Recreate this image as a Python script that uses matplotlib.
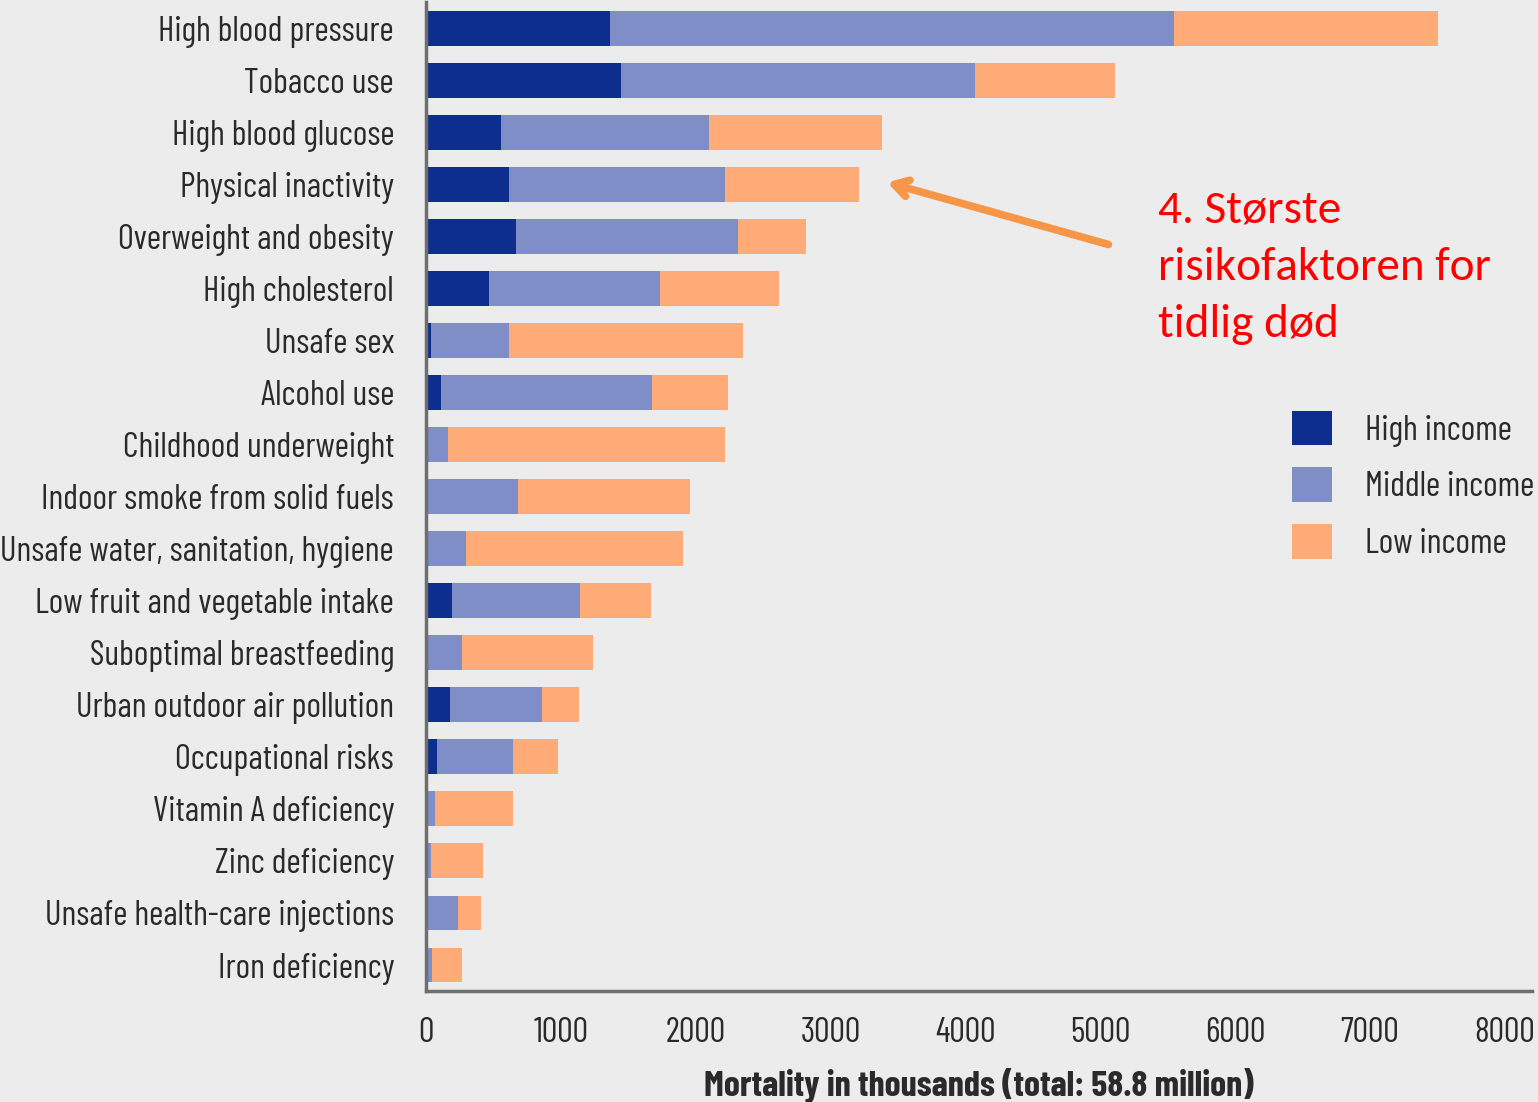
import matplotlib
matplotlib.use('Agg')
import matplotlib.pyplot as plt
import numpy as np

# risk factors, top to bottom; mortality in thousands
factors = ['High blood pressure', 'Tobacco use', 'High blood glucose',
           'Physical inactivity', 'Overweight and obesity', 'High cholesterol',
           'Unsafe sex', 'Alcohol use', 'Childhood underweight',
           'Indoor smoke from solid fuels', 'Unsafe water, sanitation, hygiene',
           'Low fruit and vegetable intake', 'Suboptimal breastfeeding',
           'Urban outdoor air pollution', 'Occupational risks',
           'Vitamin A deficiency', 'Zinc deficiency',
           'Unsafe health-care injections', 'Iron deficiency']
high_income = [1365, 1447, 556, 616, 668, 467, 37, 111, 0, 0, 0,
               193, 0, 178, 82, 0, 0, 0, 0]
middle_income = [4184, 2626, 1543, 1602, 1647, 1269, 579, 1566, 163, 682, 297,
                 949, 267, 683, 563, 67, 37, 237, 45]
low_income = [1958, 1038, 1284, 994, 504, 883, 1736, 563, 2055, 1276, 1610,
              527, 972, 274, 334, 578, 386, 171, 222]

series = ['High income', 'Middle income', 'Low income']
colors = ['#0d2d8f', '#7f8ec6', '#ffab78']
xticks = [0, 1000, 2000, 3000, 4000, 5000, 6000, 7000, 8000]

bg = '#ececec'
txt = '#2a2a2a'
label_font = ['Barlow Condensed', 'Fira Sans Condensed', 'DejaVu Sans']
note_font = ['Carlito', 'Lato', 'DejaVu Sans']

fig = plt.figure(figsize=(15.38, 11.02), dpi=100, facecolor=bg)
ax = fig.add_axes([0.277, 0.1007, 0.719, 0.8973], facecolor=bg)

y = np.arange(len(factors))
left = np.zeros(len(factors))
for vals, name, col in zip([high_income, middle_income, low_income], series, colors):
    ax.barh(y, vals, left=left, height=0.67, color=col, label=name)
    left = left + np.array(vals)

ax.set_ylim(len(factors) - 0.5, -0.5)
ax.set_xlim(0, 8200)
ax.set_yticks(y)
ax.set_yticklabels(factors, family=label_font, fontsize=25, color=txt)
ax.set_xticks(xticks)
ax.set_xticklabels([str(t) for t in xticks], family=label_font, fontsize=25,
                   color=txt)
ax.tick_params(axis='y', length=0, pad=23)
ax.tick_params(axis='x', length=0, pad=19)
for s in ['top', 'right']:
    ax.spines[s].set_visible(False)
for s in ['left', 'bottom']:
    ax.spines[s].set_color('#6e6e6e')
    ax.spines[s].set_linewidth(2.5)

ax.set_xlabel('Mortality in thousands (total: 58.8 million)', family=label_font,
              fontsize=26, fontweight='bold', color=txt, labelpad=13)

leg = ax.legend(loc='upper left', bbox_to_anchor=(0.783, 0.587), frameon=False,
                borderaxespad=0, borderpad=0,
                handlelength=1.15, handleheight=1.15, handletextpad=0.95,
                labelspacing=0.6,
                prop={'family': label_font, 'size': 25})
for t in leg.get_texts():
    t.set_color(txt)

ax.annotate('', xy=(3400, 2.95), xytext=(5080, 4.17),
            arrowprops=dict(arrowstyle='->,head_length=1.0,head_width=0.6',
                            color='#f79646', lw=5.5))
ax.text(5430, 4.59, '4. Største\nrisikofaktoren for\ntidlig død', family=note_font,
        fontsize=34, color='#ff0000', va='center', ha='left', linespacing=1.5)

fig.savefig('out.png', dpi=100, facecolor=bg)
